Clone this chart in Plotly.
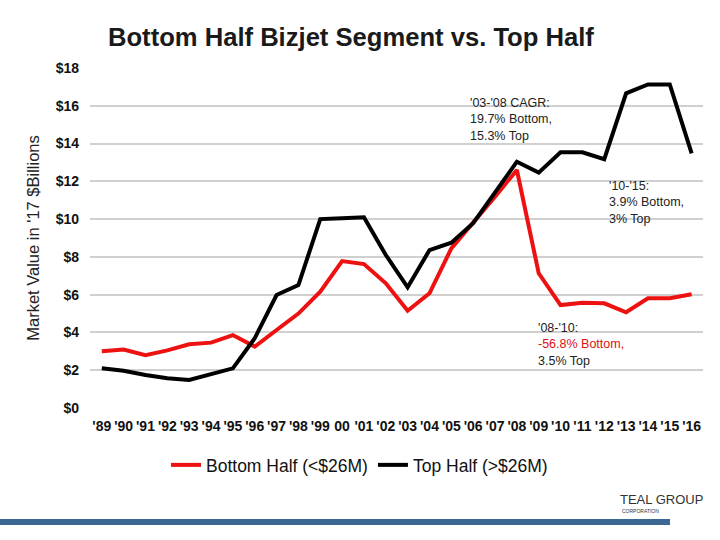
import plotly.graph_objects as go

years = list(range(1989, 2017))
year_labels = ["'89", "'90", "'91", "'92", "'93", "'94", "'95", "'96", "'97", "'98",
               "'99", "00", "'01", "'02", "'03", "'04", "'05", "'06", "'07", "'08",
               "'09", "'10", "'11", "'12", "'13", "'14", "'15", "'16"]
bottom_half = [3.0, 3.1, 2.8, 3.05, 3.37, 3.46, 3.86, 3.25, 4.13, 5.0,
               6.16, 7.78, 7.62, 6.6, 5.15, 6.07, 8.45, 9.78, 11.19, 12.6,
               7.13, 5.45, 5.57, 5.54, 5.07, 5.81, 5.81, 6.02]
top_half = [2.1, 1.97, 1.75, 1.57, 1.48, 1.8, 2.1, 3.69, 5.98, 6.51,
            10.0, 10.05, 10.1, 8.1, 6.39, 8.36, 8.75, 9.78, 11.37, 13.04,
            12.46, 13.54, 13.54, 13.17, 16.66, 17.13, 17.13, 13.48]
y_ticks = [0, 2, 4, 6, 8, 10, 12, 14, 16, 18]
y_labels = ["$" + str(v) for v in y_ticks]

FONT = "Liberation Sans, Arial, sans-serif"

fig = go.Figure()
fig.add_trace(go.Scatter(x=years, y=bottom_half, mode="lines", name="Bottom Half (<$26M)",
                         line=dict(color="#ee1111", width=4)))
fig.add_trace(go.Scatter(x=years, y=top_half, mode="lines", name="Top Half (>$26M)",
                         line=dict(color="#000000", width=4)))

fig.update_layout(
    width=720, height=540,
    margin=dict(l=90, r=17, t=68, b=132),
    paper_bgcolor="white", plot_bgcolor="white",
    font=dict(family=FONT, color="#111111"),
    title=dict(text="<b>Bottom Half Bizjet Segment vs. Top Half</b>",
               x=108/720, xanchor="left", y=1-37/540, yanchor="middle",
               font=dict(size=25.6, color="#1a1a1a", family=FONT)),
    showlegend=True,
    legend=dict(orientation="h", x=(166-90)/613, xanchor="left", y=-57/340, yanchor="middle",
                font=dict(size=17.5, family=FONT, color="#111111"),
                itemwidth=30, bgcolor="rgba(0,0,0,0)"),
    xaxis=dict(range=[1988.46, 2016.52], tickvals=years, ticktext=year_labels,
               showgrid=False, zeroline=False, showline=False, ticks="",
               ticklabelstandoff=8,
               tickfont=dict(size=14, family=FONT, color="#111111", weight=700),
               tickangle=0),
    yaxis=dict(range=[0, 18], tickvals=y_ticks, ticktext=y_labels,
               showgrid=True, gridcolor="#d0d0d0", gridwidth=1.5, zeroline=False,
               showline=False, ticks="", ticklabelstandoff=10,
               tickfont=dict(size=14, family=FONT, color="#111111", weight=700),
               title=dict(text="Market Value in '17 $Billions", standoff=11,
                          font=dict(size=16.5, family=FONT, color="#222222"))),
)

ann_font = dict(size=12.5, family=FONT, color="#222222")
fig.add_annotation(x=2005.76, y=15.25, xref="x", yref="y", xanchor="left", yanchor="middle",
                   text="'03-'08 CAGR:<br>19.7% Bottom,<br>15.3% Top", showarrow=False,
                   align="left", font=ann_font)
fig.add_annotation(x=2012.12, y=10.9, xref="x", yref="y", xanchor="left", yanchor="middle",
                   text="'10-'15:<br>3.9% Bottom,<br>3% Top", showarrow=False,
                   align="left", font=ann_font)
fig.add_annotation(x=2008.87, y=3.34, xref="x", yref="y", xanchor="left", yanchor="middle",
                   text="'08-'10:<br><span style='color:#dd1111'>-56.8% Bottom,</span><br>3.5% Top",
                   showarrow=False, align="left", font=ann_font)

# bottom decorative bar
fig.add_shape(type="rect", xref="paper", yref="paper",
              x0=(0-90)/613, x1=(670-90)/613, y0=(408-525)/340, y1=(408-519)/340,
              fillcolor="#3b6793", line=dict(width=0), layer="above")
fig.add_annotation(xref="paper", yref="paper", x=(618-90)/613, y=(408-499)/340,
                   xanchor="left", yanchor="middle", showarrow=False,
                   text="TEAL GROUP", font=dict(size=13, family="Liberation Sans Narrow, " + FONT, color="#333333"))
fig.add_annotation(xref="paper", yref="paper", x=(620-90)/613, y=(408-511)/340,
                   xanchor="left", yanchor="middle", showarrow=False,
                   text="CORPORATION", font=dict(size=5, family=FONT, color="#333333"))

fig.write_html("out.html", config={"displayModeBar": False},
               post_script="document.body.style.margin='0';")
